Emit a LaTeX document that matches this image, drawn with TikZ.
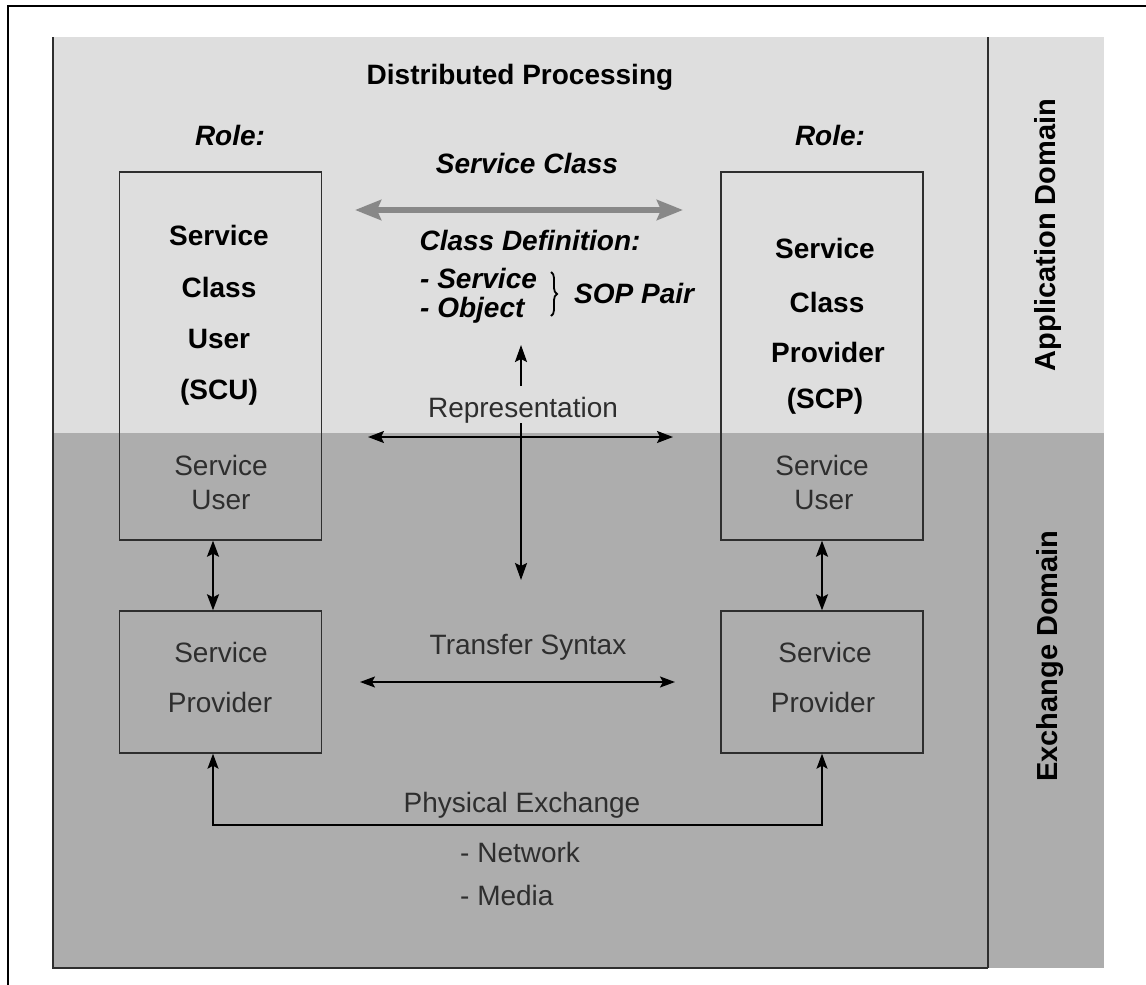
\documentclass[tikz,border=0pt]{standalone}
\usepackage{fontspec}
\setmainfont{Liberation Sans}
\usetikzlibrary{arrows.meta,decorations.pathreplacing,calc}
\definecolor{lightbg}{HTML}{DEDEDE}
\definecolor{darkbg}{HTML}{ADADAD}
\definecolor{boxline}{HTML}{2E2E2E}
\definecolor{txtgray}{HTML}{2E2E2E}
\definecolor{arrgray}{HTML}{888888}
\begin{document}
\begin{tikzpicture}[x=1pt,y=-1pt,
  box/.style={draw=boxline,line width=1.4pt,minimum width=202pt,inner sep=0pt},
  boldtxt/.style={font=\fontsize{28}{30}\selectfont\bfseries,text=black,anchor=base,inner sep=0pt},
  itxt/.style={font=\fontsize{28}{30}\selectfont\bfseries\itshape,text=black,anchor=base,inner sep=0pt},
  plaintxt/.style={font=\fontsize{28}{30}\selectfont,text=txtgray,anchor=base,inner sep=0pt},
  sidetxt/.style={font=\fontsize{29}{31}\selectfont\bfseries,text=black,rotate=90,inner sep=0pt},
  conn/.style={line width=2pt,black,{Stealth[length=16pt,width=12pt,inset=3pt]}-{Stealth[length=16pt,width=12pt,inset=3pt]}},
  thinconn/.style={line width=1.6pt,black,{Stealth[length=15pt,width=11pt,inset=3pt]}-{Stealth[length=15pt,width=11pt,inset=3pt]}},
  oneway/.style={line width=2.2pt,black,-{Stealth[length=17pt,width=12pt,inset=3pt]}},
  grayarrow/.style={line width=6pt,arrgray,{Stealth[length=26pt,width=20pt,inset=4pt]}-{Stealth[length=26pt,width=20pt,inset=4pt]}}
]
\useasboundingbox (0,0) rectangle (1146,985);
\fill[white] (0,0) rectangle (1146,985);
% backgrounds
\fill[lightbg] (53,37) rectangle (1104,433);
\fill[darkbg] (53,433) rectangle (1104,968);
\draw[boxline,line width=1.6pt] (53,37) -- (53,968) -- (988,968);
\draw[boxline,line width=1.3pt] (988,37) -- (988,968);
% outer frame
\draw[black,line width=2.5pt] (8,985) -- (8,6) -- (1146,6);

% boxes
\node[box,minimum height=368pt] (scu) at (220.5,356) {};
\node[box,minimum height=368pt] (scp) at (822,356) {};
\node[box,minimum height=142pt] (spl) at (220.5,682) {};
\node[box,minimum height=142pt] (spr) at (822,682) {};

% titles
\node[boldtxt] (dp) at (520,84) {Distributed Processing};
\node[itxt] (role1) at (230,145) {Role:};
\node[itxt] (role2) at (830,145) {Role:};

% SCU text
\node[boldtxt] (scu1) at (219,245) {Service};
\node[boldtxt] (scu2) at (219,297) {Class};
\node[boldtxt] (scu3) at (219,348) {User};
\node[boldtxt] (scu4) at (219,399) {(SCU)};
\node[plaintxt] (scu5) at (221,475) {Service};
\node[plaintxt] (scu6) at (221,509) {User};

% SCP text
\node[boldtxt] (scp1) at (825,258) {Service};
\node[boldtxt] (scp2) at (827,312) {Class};
\node[boldtxt] (scp3) at (828,362) {Provider};
\node[boldtxt] (scp4) at (825,408) {(SCP)};
\node[plaintxt] (scp5) at (822,475) {Service};
\node[plaintxt] (scp6) at (824,509) {User};

% provider text
\node[plaintxt] (spl1) at (221,662) {Service};
\node[plaintxt] (spl2) at (220,712) {Provider};
\node[plaintxt] (spr1) at (825,662) {Service};
\node[plaintxt] (spr2) at (823,712) {Provider};

% service class
\node[itxt] (sc) at (527,173) {Service Class};
\coordinate (scL) at (355,210);
\coordinate (scR) at (683,210);
\draw[grayarrow] (scL) -- (scR);
\node[itxt] (cd) at (530,250) {Class Definition:};
\node[itxt,anchor=base west] (cds) at (420,288) {- Service};
\node[itxt,anchor=base west] (cdo) at (420,317) {- Object};
\coordinate (brT) at (551,272);
\coordinate (brB) at (551,316);
\draw[decorate,decoration={brace,amplitude=6pt},line width=1.8pt,black] (brT) -- (brB);
\node[itxt,anchor=base west] (sop) at (574,303) {SOP Pair};

% representation
\node[plaintxt] (rep) at (523,417) {Representation};
\coordinate (repTop) at (521,345);
\coordinate (repA) at (521,386);
\coordinate (repB) at (521,423);
\coordinate (repBot) at (521,580);
\draw[oneway] (repA) -- (repTop);
\draw[oneway] (repB) -- (repBot);
\coordinate (repL) at (368,437);
\coordinate (repR) at (673,437);
\draw[conn] (repL) -- (repR);

% user <-> provider
\draw[conn] ($(scu.south)+(-7.5,0)$) -- ($(spl.north)+(-7.5,0)$);
\draw[conn] (scp.south) -- (spr.north);

% transfer syntax
\node[plaintxt] (ts) at (528,654) {Transfer Syntax};
\coordinate (tsL) at (360,682);
\coordinate (tsR) at (675,682);
\draw[thinconn] (tsL) -- (tsR);

% physical exchange
\draw[thinconn] ($(spl.south)+(-7.5,0)$) -- ++(0,71) -| (spr.south);
\node[plaintxt] (pe) at (522,812) {Physical Exchange};
\node[plaintxt,anchor=base west] (net) at (460,862) {- Network};
\node[plaintxt,anchor=base west] (med) at (460,905) {- Media};

% domains
\node[sidetxt] (appd) at (1048,235) {Application Domain};
\node[sidetxt] (exd) at (1050,656) {Exchange Domain};
\end{tikzpicture}
\end{document}
